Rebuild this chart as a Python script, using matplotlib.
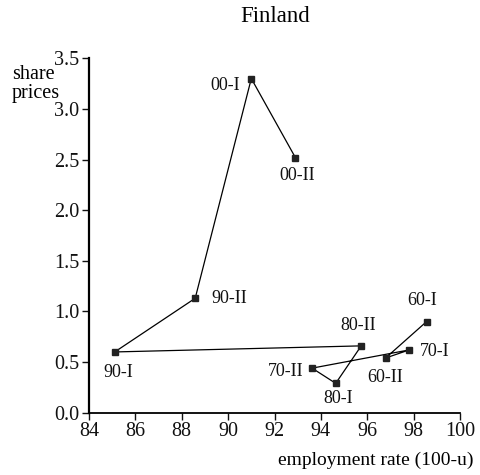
import matplotlib
matplotlib.use("Agg")
import matplotlib.pyplot as plt

plt.rcParams['font.family'] = ['Liberation Serif', 'DejaVu Serif']

labels = ["60-I", "60-II", "70-I", "70-II", "80-I", "80-II", "90-I", "90-II", "00-I", "00-II"]
employment = [98.56, 96.79, 97.81, 93.62, 94.64, 95.74, 85.11, 88.58, 91.00, 92.90]
share_prices = [0.90, 0.54, 0.62, 0.44, 0.29, 0.66, 0.60, 1.13, 3.30, 2.52]

# label offsets in pixels (dx right, dy down)
offsets_px = {
    "60-I": (-4, -21), "60-II": (0, 19), "70-I": (25, 2), "70-II": (-26, 3),
    "80-I": (2, 15), "80-II": (-3, -20), "90-I": (4, 21), "90-II": (34, 0),
    "00-I": (-26, 7), "00-II": (2, 18),
}

fig = plt.figure(figsize=(4.8, 4.75), dpi=100)
ax = fig.add_axes([89/480, 1-412.7/475, (460-89)/480, (412.7-58.3)/475])

ax.plot(employment, share_prices, color='black', lw=0.9, marker='s', ms=4.5,
        markerfacecolor='#222222', markeredgecolor='#222222', zorder=3)

for lab, x, y in zip(labels, employment, share_prices):
    dx, dy = offsets_px[lab]
    ax.annotate(lab, (x, y), xytext=(dx*0.72, -dy*0.72), textcoords='offset points',
                ha='center', va='center', fontsize=13, color='#111111')

ax.set_xlim(84, 100)
ax.set_ylim(0, 3.5)
ax.set_xticks(range(84, 101, 2))
ax.set_yticks([0.0, 0.5, 1.0, 1.5, 2.0, 2.5, 3.0, 3.5])
ax.set_yticklabels([f"{v:.1f}" for v in ax.get_yticks()])
ax.tick_params(labelsize=14.5, direction='out', length=5, width=1, pad=2, colors='#111111')
for s in ['top', 'right']:
    ax.spines[s].set_visible(False)
ax.spines['left'].set_linewidth(1.6)
ax.spines['bottom'].set_linewidth(1.3)

fig.text(275/480, 1-17/475, "Finland", ha='center', va='center', fontsize=16.5)
fig.text(12/480, 1-65/475, "share\nprices", ha='left', va='top', fontsize=14.5, linespacing=1.0)
fig.text(474/480, 1-460/475, "employment rate (100-u)", ha='right', va='center', fontsize=14)

fig.savefig("out.png", dpi=100)
